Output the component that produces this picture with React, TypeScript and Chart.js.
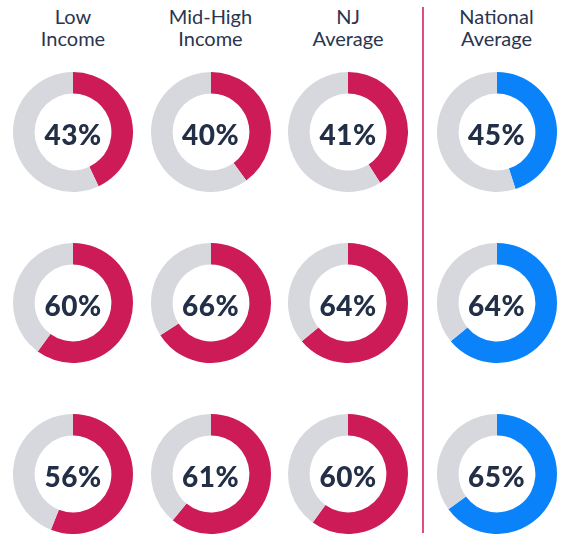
import React, { useEffect, useRef } from "react";
import { Chart, registerables } from "chart.js";

Chart.register(...registerables);

const columns = ["Low\nIncome", "Mid-High\nIncome", "NJ\nAverage", "National\nAverage"];
const lowIncome = [43, 60, 56];
const midHighIncome = [40, 66, 61];
const njAverage = [41, 64, 60];
const nationalAverage = [45, 64, 65];
const seriesList = [lowIncome, midHighIncome, njAverage, nationalAverage];

const RED = "#cc1b56";
const BLUE = "#0a82fa";
const GRAY = "#d6d8dd";
const TEXT = "#232f47";

const colX = [73, 210.5, 348, 496.5];
const rowY = [132, 303, 474];
const R = 60;

function Donut({ value, color, cx, cy }: { value: number; color: string; cx: number; cy: number }) {
  const ref = useRef<HTMLCanvasElement | null>(null);
  useEffect(() => {
    if (!ref.current) return;
    const chart = new Chart(ref.current, {
      type: "doughnut",
      data: {
        labels: ["value", "rest"],
        datasets: [
          {
            data: [value, 100 - value],
            backgroundColor: [color, GRAY],
            borderWidth: 0,
          },
        ],
      },
      options: {
        responsive: false,
        animation: false,
        cutout: "64%",
        layout: { padding: 0 },
        plugins: { legend: { display: false }, tooltip: { enabled: false } },
        events: [],
      },
    });
    return () => chart.destroy();
  }, [value, color]);
  return (
    <div style={{ position: "absolute", left: cx - R, top: cy - R, width: 2 * R, height: 2 * R }}>
      <canvas ref={ref} width={2 * R} height={2 * R} style={{ width: 2 * R, height: 2 * R, display: "block" }} />
      <div
        style={{
          position: "absolute",
          left: 0,
          top: 0,
          width: 2 * R,
          height: 2 * R,
          display: "flex",
          alignItems: "center",
          justifyContent: "center",
          fontFamily: "Lato, sans-serif",
          fontWeight: 900,
          fontSize: 28,
          letterSpacing: 0.5,
          color: TEXT,
          paddingTop: 3,
          boxSizing: "border-box",
        }}
      >
        {value}%
      </div>
    </div>
  );
}

export default function App() {
  return (
    <div style={{ position: "absolute", left: 0, top: 0, width: 565, height: 535, background: "#fff", overflow: "hidden" }}>
      {columns.map((c, i) => (
        <div
          key={c}
          style={{
            position: "absolute",
            left: colX[i] - 70,
            top: 5,
            width: 140,
            textAlign: "center",
            fontFamily: "Lato, sans-serif",
            fontSize: 20,
            lineHeight: "22px",
            color: "#2a3550",
            whiteSpace: "pre-line",
          }}
        >
          {c}
        </div>
      ))}
      <div style={{ position: "absolute", left: 422, top: 7, width: 1.5, height: 526, background: "#de4f7c" }} />
      {seriesList.map((s, i) =>
        s.map((v, j) => (
          <Donut key={`${i}-${j}`} value={v} color={i === 3 ? BLUE : RED} cx={colX[i]} cy={rowY[j]} />
        ))
      )}
    </div>
  );
}
